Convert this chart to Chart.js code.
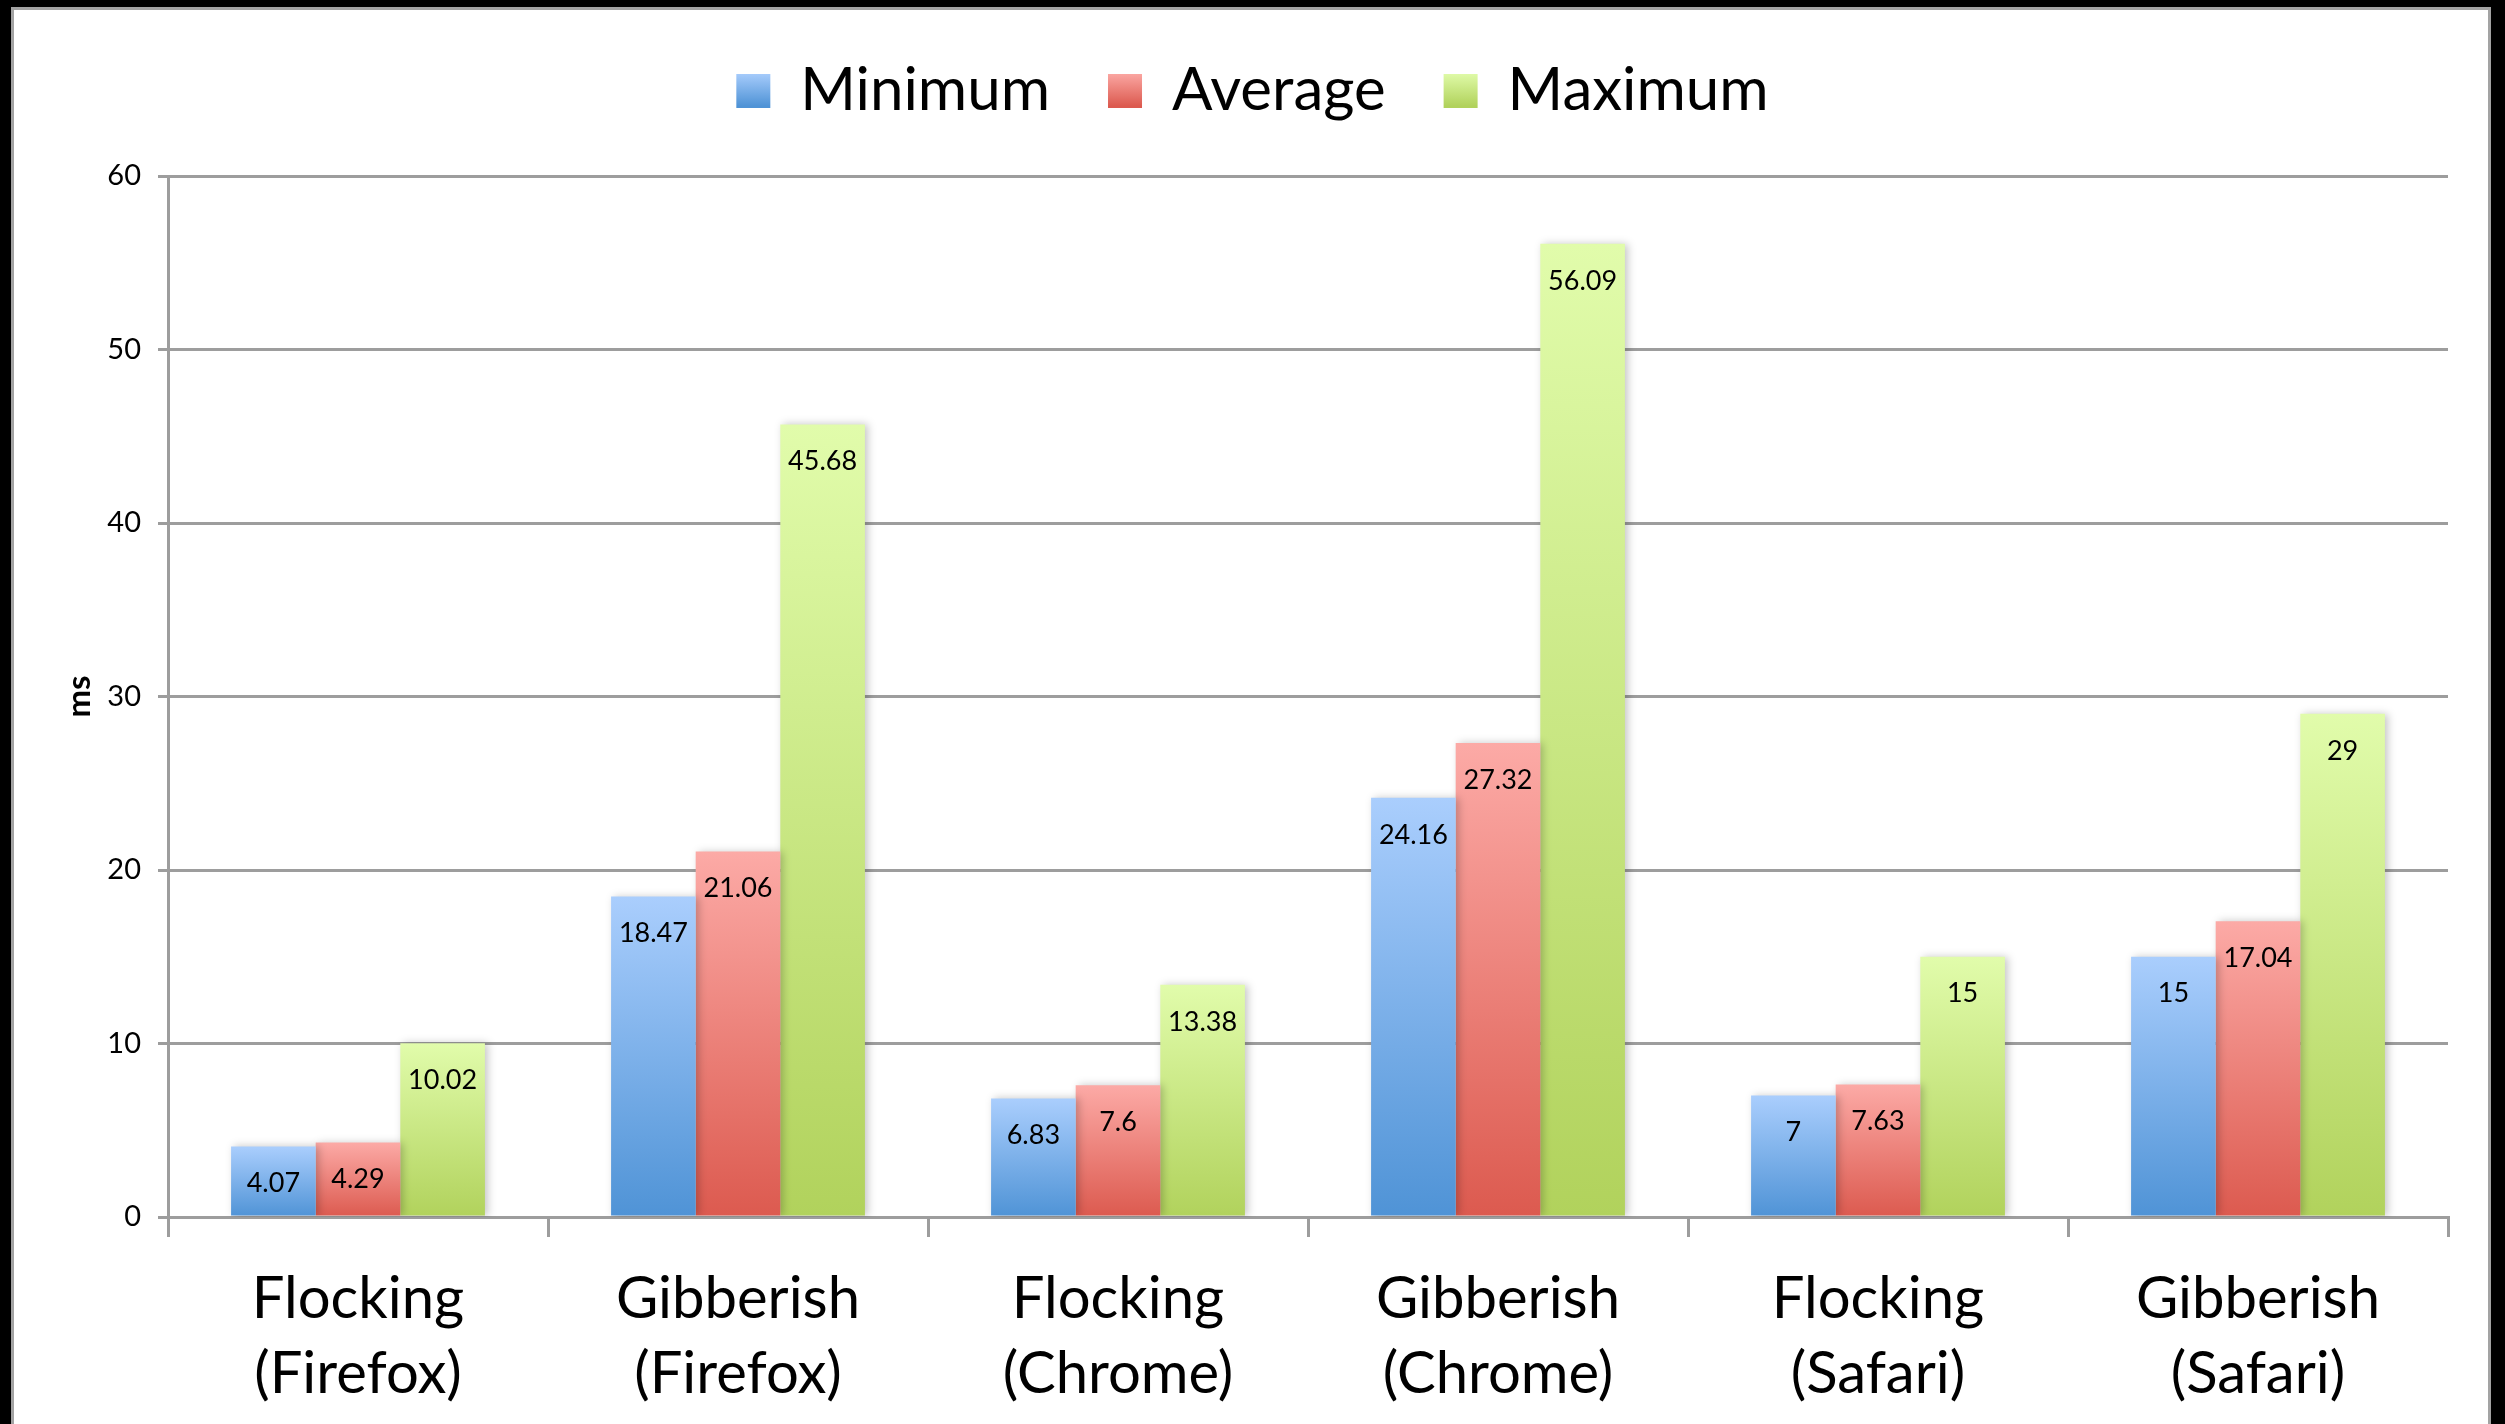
<!DOCTYPE html>
<html>
<head>
<meta charset="utf-8">
<script src="https://cdn.jsdelivr.net/npm/chart.js@4.4.1/dist/chart.umd.min.js"></script>
<style>
  html, body { margin: 0; padding: 0; background: #000; overflow: hidden; }
  #frame {
    position: absolute; left: 11px; top: 7px;
    width: 2480px; height: 1500px;
    box-sizing: border-box;
    border: 3px solid #a3a3a3;
    background: #fff;
  }
  #wrap { position: absolute; left: 0; top: 0; width: 2505px; height: 1424px; }
</style>
</head>
<body>
<div id="frame"></div>
<div id="wrap"><canvas id="chart"></canvas></div>
<script>
// Données du graphique
const categories = [
  ['Flocking', '(Firefox)'],
  ['Gibberish', '(Firefox)'],
  ['Flocking', '(Chrome)'],
  ['Gibberish', '(Chrome)'],
  ['Flocking', '(Safari)'],
  ['Gibberish', '(Safari)']
];
const minimumValues = [4.07, 18.47, 6.83, 24.16, 7, 15];
const averageValues = [4.29, 21.06, 7.6, 27.32, 7.63, 17.04];
const maximumValues = [10.02, 45.68, 13.38, 56.09, 15, 29];
const yTicks = [0, 10, 20, 30, 40, 50, 60];

const FONT = 'Lato, "Open Sans", sans-serif';
const GRID = '#9d9d9d';

// Dégradé vertical propre à chaque barre
function barGradient(top, bottom) {
  return function(ctx) {
    const chart = ctx.chart;
    if (ctx.type !== 'data' || !chart.chartArea) return bottom;
    const y = chart.scales.y;
    const y0 = y.getPixelForValue(0);
    const y1 = y.getPixelForValue(ctx.raw);
    const g = chart.ctx.createLinearGradient(0, y1, 0, y0);
    g.addColorStop(0, top);
    g.addColorStop(1, bottom);
    return g;
  };
}

const palette = [
  { top: '#aacefd', bottom: '#4f93d6' },
  { top: '#fcaaa6', bottom: '#dc5a4f' },
  { top: '#e1fcab', bottom: '#b1d25c' }
];

// Ombre légère sous les barres
const shadowPlugin = {
  id: 'barShadow',
  beforeDatasetsDraw(chart) {
    const c = chart.ctx;
    c.save();
    c.shadowColor = 'rgba(0,0,0,0.22)';
    c.shadowBlur = 8;
    c.shadowOffsetX = 3;
    c.shadowOffsetY = 0;
  },
  afterDatasetsDraw(chart) {
    chart.ctx.restore();
  }
};

// Étiquettes de valeur à l'intérieur des barres
const valueLabels = {
  id: 'valueLabels',
  afterDatasetsDraw(chart) {
    const c = chart.ctx;
    c.save();
    c.font = '27px ' + FONT;
    c.fillStyle = '#000';
    c.textAlign = 'center';
    c.textBaseline = 'middle';
    chart.data.datasets.forEach((ds, i) => {
      const meta = chart.getDatasetMeta(i);
      meta.data.forEach((bar, j) => {
        c.fillText(String(ds.data[j]), bar.x, bar.y + 37);
      });
    });
    c.restore();
  }
};

// Centrer la légende sur la toile entière (comme dans l'original)
const legendShift = {
  id: 'legendShift',
  afterLayout(chart) {
    const lg = chart.legend;
    if (!lg) return;
    const dx = chart.width / 2 - (lg.left + lg.right) / 2;
    lg.left += dx;
    lg.right += dx;
  }
};

const ctx = document.getElementById('chart').getContext('2d');
const chart = new Chart(ctx, {
  type: 'bar',
  data: {
    labels: categories,
    datasets: [
      { label: 'Minimum', data: minimumValues, backgroundColor: barGradient(palette[0].top, palette[0].bottom) },
      { label: 'Average', data: averageValues, backgroundColor: barGradient(palette[1].top, palette[1].bottom) },
      { label: 'Maximum', data: maximumValues, backgroundColor: barGradient(palette[2].top, palette[2].bottom) }
    ]
  },
  options: {
    responsive: true,
    maintainAspectRatio: false,
    animation: false,
    datasets: {
      bar: { categoryPercentage: 0.668, barPercentage: 1.0, borderWidth: 0 }
    },
    layout: { padding: { left: 0, right: 57, top: 3, bottom: 0 } },
    plugins: {
      tooltip: { enabled: false },
      // espace vide entre la légende et le graphique
      title: {
        display: true,
        text: ' ',
        weight: 500,
        padding: { top: 0, bottom: 35 },
        font: { size: 10, lineHeight: 1 }
      },
      legend: {
        position: 'top',
        labels: {
          font: { family: FONT, size: 60 },
          color: '#000',
          boxWidth: 34,
          boxHeight: 34,
          padding: 58,
          generateLabels(chart) {
            const items = Chart.defaults.plugins.legend.labels.generateLabels(chart);
            items.forEach((it, i) => {
              const g = chart.ctx.createLinearGradient(0, 72, 0, 106);
              g.addColorStop(0, palette[i].top);
              g.addColorStop(1, palette[i].bottom);
              it.fillStyle = g;
              it.lineWidth = 0;
              it.strokeStyle = 'rgba(0,0,0,0)';
            });
            return items;
          }
        }
      }
    },
    scales: {
      x: {
        offset: true,
        afterFit(scale) { scale.height = 207; },
        grid: {
          offset: true,
          drawOnChartArea: false,
          drawTicks: true,
          tickLength: 20,
          color: GRID,
          lineWidth: 3
        },
        border: { color: GRID, width: 3 },
        ticks: {
          color: '#000',
          padding: 25,
          maxRotation: 0,
          font: { family: FONT, size: 58, lineHeight: 1.29 }
        }
      },
      y: {
        min: 0,
        max: 60,
        afterFit(scale) { scale.width = 168; },
        afterBuildTicks(scale) {
          scale.ticks = yTicks.map(v => ({ value: v }));
        },
        grid: { color: GRID, lineWidth: 3, tickLength: 10 },
        border: { color: GRID, width: 3 },
        ticks: {
          color: '#000',
          padding: 17,
          font: { family: FONT, size: 29 }
        },
        title: {
          display: true,
          text: 'ms',
          color: '#000',
          padding: { top: 60, bottom: 10 },
          font: { family: FONT, size: 33, weight: 'bold', lineHeight: 1.2 }
        }
      }
    }
  },
  plugins: [shadowPlugin, valueLabels, legendShift]
});
</script>
</body>
</html>
